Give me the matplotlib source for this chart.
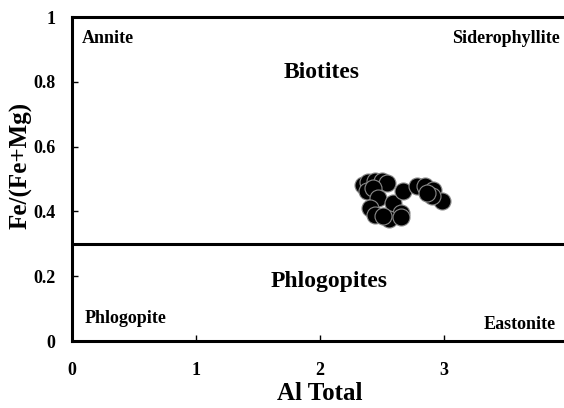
"""Biotite classification diagram: Fe/(Fe+Mg) against total Al."""

import matplotlib

matplotlib.use("Agg")
import matplotlib.pyplot as plt

# ---------------------------------------------------------------------------
# Data
# ---------------------------------------------------------------------------

al_total = [
    2.35, 2.39, 2.44, 2.50, 2.54, 2.38, 2.43, 2.47, 2.40, 2.44, 2.59,
    2.67, 2.65, 2.56, 2.65, 2.51,
    2.78, 2.85, 2.91, 2.98, 2.90, 2.86,
]
fe_ratio = [
    0.481, 0.490, 0.494, 0.494, 0.488, 0.463, 0.472, 0.441, 0.410, 0.389, 0.426,
    0.463, 0.395, 0.377, 0.383, 0.385,
    0.478, 0.478, 0.466, 0.432, 0.448, 0.457,
]

divide_at = 0.3
x_ticks = [0, 1, 2, 3, 4]
y_ticks = [0, 0.2, 0.4, 0.6, 0.8, 1]
y_tick_labels = ["0", "0.2", "0.4", "0.6", "0.8", "1"]

plt.rcParams["font.family"] = ["Liberation Serif", "DejaVu Serif"]
plt.rcParams["font.weight"] = "bold"

# ---------------------------------------------------------------------------
# Figure
# ---------------------------------------------------------------------------

fig = plt.figure(figsize=(5.64, 4.08), dpi=100)
# axes run slightly past the right edge, so the right spine is cut away
ax = fig.add_axes([0.1277, 0.1642, 0.8794, 0.7941])

ax.scatter(al_total, fe_ratio, s=150, c="black", edgecolors="#8a8a8a",
           linewidths=0.8, zorder=3)
ax.axhline(divide_at, color="black", lw=2.2, zorder=2)

ax.set_xlim(0, 4)
ax.set_ylim(0, 1)
ax.set_xticks(x_ticks)
ax.set_yticks(y_ticks)
ax.set_yticklabels(y_tick_labels)
ax.tick_params(axis="both", direction="in", length=4, width=1,
               labelsize=13)
ax.tick_params(axis="x", pad=15)
ax.tick_params(axis="y", pad=12)
for lab in ax.get_xticklabels() + ax.get_yticklabels():
    lab.set_fontweight("bold")
for side in ax.spines.values():
    side.set_linewidth(2.2)

ax.set_xlabel("Al Total", fontsize=18, fontweight="bold")
ax.xaxis.set_label_coords(0.5, -0.128)
ax.set_ylabel("Fe/(Fe+Mg)", fontsize=18, fontweight="bold")
ax.yaxis.set_label_coords(-0.079, 0.543)

# end-member and field names
ax.text(0.08, 0.935, "Annite", fontsize=13, fontweight="bold",
        ha="left", va="center")
ax.text(3.935, 0.935, "Siderophyllite", fontsize=13, fontweight="bold",
        ha="right", va="center")
ax.text(0.10, 0.07, "Phlogopite", fontsize=13, fontweight="bold",
        ha="left", va="center")
ax.text(3.90, 0.05, "Eastonite", fontsize=13, fontweight="bold",
        ha="right", va="center")
ax.text(2.01, 0.83, "Biotites", fontsize=17, fontweight="bold",
        ha="center", va="center")
ax.text(2.07, 0.185, "Phlogopites", fontsize=17, fontweight="bold",
        ha="center", va="center")

fig.savefig("out.png", dpi=100)
